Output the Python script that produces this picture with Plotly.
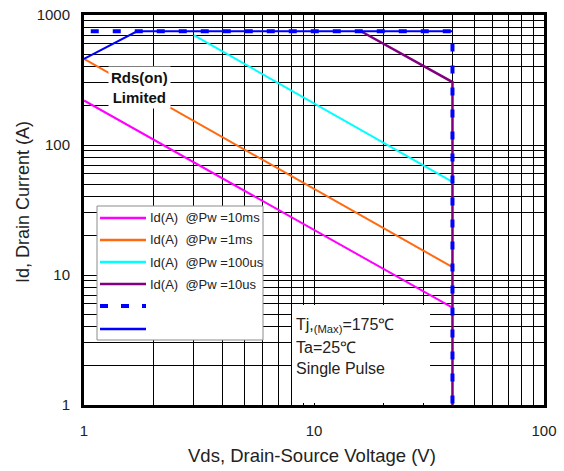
import plotly.graph_objects as go

# ---- data ----
vds_10ms = [1, 40]
id_10ms = [220, 5.6]
vds_1ms = [1, 40]
id_1ms = [460, 11.5]
vds_100us = [3, 40]
id_100us = [700, 52]
vds_10us = [16, 40, 40]
id_10us = [750, 305, 1]
vds_limit = [1.07, 40, 40]
id_limit = [750, 750, 1]
vds_rds = [1, 1.7, 40]
id_rds = [460, 750, 750]

legend_names = ["Id(A)  @Pw =10ms", "Id(A)  @Pw =1ms", "Id(A)  @Pw =100us", "Id(A)  @Pw =10us", "", ""]
x_grid = [1, 2, 3, 4, 5, 6, 7, 8, 9, 10, 20, 30, 40, 50, 60, 70, 80, 90, 100]
x_text = ["1", "", "", "", "", "", "", "", "", "10", "", "", "", "", "", "", "", "", "100"]
y_grid = [1, 2, 3, 4, 5, 6, 7, 8, 9, 10, 20, 30, 40, 50, 60, 70, 80, 90, 100,
          200, 300, 400, 500, 600, 700, 800, 900, 1000]
y_text = ["1"] + [""] * 8 + ["10"] + [""] * 8 + ["100"] + [""] * 8 + ["1000"]

C_MAG = "#FF00FF"
C_ORA = "#FF6A10"
C_CYA = "#00FFFF"
C_PUR = "#800080"
C_BLU = "#0000FF"

FONT = "Arial, Liberation Sans, sans-serif"

fig = go.Figure()
fig.add_trace(go.Scatter(x=vds_10ms, y=id_10ms, mode="lines", line=dict(color=C_MAG, width=2)))
fig.add_trace(go.Scatter(x=vds_1ms, y=id_1ms, mode="lines", line=dict(color=C_ORA, width=2)))
fig.add_trace(go.Scatter(x=vds_100us, y=id_100us, mode="lines", line=dict(color=C_CYA, width=2)))
fig.add_trace(go.Scatter(x=vds_10us, y=id_10us, mode="lines", line=dict(color=C_PUR, width=2.5)))
fig.add_trace(go.Scatter(x=vds_limit, y=id_limit, mode="lines", line=dict(color=C_BLU, width=4, dash="8px,14px")))
fig.add_trace(go.Scatter(x=vds_rds, y=id_rds, mode="lines", line=dict(color=C_BLU, width=2)))

L, R, T, B = 84, 20, 15, 66
W, H = 564, 471
PW, PH = W - L - R, H - T - B


def px(x):
    return (x - L) / PW


def py(y):
    return (H - B - y) / PH


shapes = []
annotations = []

# legend box
shapes.append(dict(type="rect", xref="paper", yref="paper", x0=px(97), x1=px(263), y0=py(340), y1=py(206),
                   fillcolor="white", line=dict(color="#8c8c8c", width=1), layer="above"))
leg_styles = [
    dict(color=C_MAG, width=2.5), dict(color=C_ORA, width=2.5), dict(color=C_CYA, width=2.5),
    dict(color=C_PUR, width=2.5), dict(color=C_BLU, width=4, dash="8px,13px"), dict(color=C_BLU, width=2.5),
]
leg_y = [218, 240, 262, 284, 306, 329]
for name, st, yy in zip(legend_names, leg_styles, leg_y):
    shapes.append(dict(type="line", xref="paper", yref="paper", x0=px(100), x1=px(146), y0=py(yy), y1=py(yy),
                       line=st, layer="above"))
    if name:
        annotations.append(dict(xref="paper", yref="paper", x=px(148), y=py(yy), text=name, showarrow=False,
                                xanchor="left", yanchor="middle", font=dict(family=FONT, size=13, color="#222")))

# condition box
shapes.append(dict(type="rect", xref="paper", yref="paper", x0=px(292), x1=px(430), y0=py(403), y1=py(305),
                   fillcolor="white", line=dict(width=0), layer="above"))
cond = ["Tj,<sub>(Max)</sub>=175\u2103", "Ta=25\u2103", "Single Pulse"]
cond_y = [325, 347, 368]
for t, yy in zip(cond, cond_y):
    annotations.append(dict(xref="paper", yref="paper", x=px(294), y=py(yy), text=t, showarrow=False,
                            xanchor="left", yanchor="middle", font=dict(family=FONT, size=16, color="#222")))

# Rds(on) label
annotations.append(dict(xref="paper", yref="paper", x=px(139), y=py(87), text="<b>Rds(on)<br>Limited</b>",
                        showarrow=False, xanchor="center", yanchor="middle", bgcolor="white", borderpad=2,
                        font=dict(family=FONT, size=15, color="#111")))

# axis titles
annotations.append(dict(xref="paper", yref="paper", x=px(312), y=py(455), text="Vds, Drain-Source Voltage (V)",
                        showarrow=False, xanchor="center", yanchor="middle",
                        font=dict(family=FONT, size=18.5, color="#222")))
annotations.append(dict(xref="paper", yref="paper", x=px(23), y=py(202), text="Id, Drain Current (A)",
                        showarrow=False, xanchor="center", yanchor="middle", textangle=-90,
                        font=dict(family=FONT, size=18, color="#222")))

fig.update_layout(
    width=W, height=H, margin=dict(l=L, r=R, t=T, b=B),
    paper_bgcolor="white", plot_bgcolor="white", showlegend=False,
    shapes=shapes, annotations=annotations,
    font=dict(family=FONT, size=15, color="#222"),
)
fig.update_xaxes(type="log", range=[0, 2], tickvals=x_grid, ticktext=x_text, showgrid=True, gridcolor="black",
                 gridwidth=1, showline=True, linecolor="black", linewidth=3, mirror=True, ticks="",
                 ticklabelstandoff=10, tickfont=dict(size=15), automargin=False)
fig.update_yaxes(type="log", range=[0, 3], tickvals=y_grid, ticktext=y_text, showgrid=True, gridcolor="black",
                 gridwidth=1, showline=True, linecolor="black", linewidth=3, mirror=True, ticks="",
                 ticklabelstandoff=8, tickfont=dict(size=15), automargin=False)

fig.write_html("out.html")
